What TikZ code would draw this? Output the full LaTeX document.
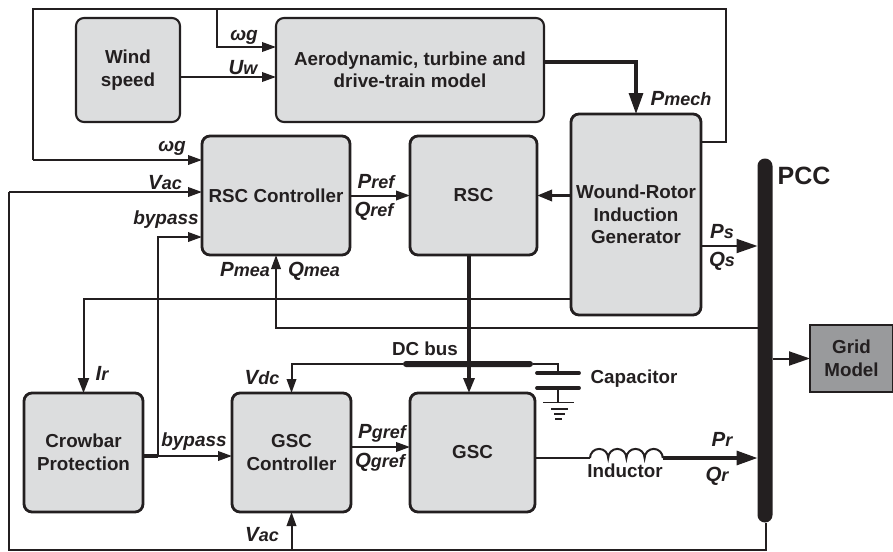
\documentclass[tikz,border=0pt]{standalone}
\usepackage{fontspec}
\setmainfont{Liberation Sans}
\usetikzlibrary{arrows.meta,calc}
\definecolor{ink}{HTML}{231F20}
\definecolor{boxgray}{HTML}{DCDDDE}
\definecolor{gridgray}{HTML}{999A9C}
\newcommand{\sig}[2]{{\fontsize{20.5}{22}\selectfont #1}{\fontsize{18}{22}\selectfont #2}}
\tikzset{
  blockbox/.style={draw=ink,fill=boxgray,line width=2.8pt,rounded corners=8pt,inner sep=0pt,outer sep=0pt,align=center,text=ink,font=\bfseries\fontsize{18.8}{22.5}\selectfont},
  thinbox/.style={blockbox,line width=2.1pt},
  bar/.style={fill=ink,inner sep=0pt,outer sep=0pt},
  lab/.style={inner sep=0pt,text=ink,font=\bfseries\itshape\fontsize{19}{22}\selectfont},
  plain/.style={inner sep=0pt,text=ink,font=\bfseries\fontsize{18.8}{22}\selectfont},
  wire/.style={draw=ink,line width=2pt,line join=miter},
  heavy/.style={draw=ink,line width=3.2pt},
  sa/.style={-{Triangle[length=14pt,width=9.5pt]}},
  la/.style={-{Triangle[length=21pt,width=14pt]}},
  ma/.style={-{Triangle[length=15pt,width=11pt]}}
}
\begin{document}
\begin{tikzpicture}[x=1pt,y=-1pt]
\useasboundingbox (0,0) rectangle (893,551);
% blocks
\node[thinbox,minimum width=104pt,minimum height=104pt] (wind) at (128,70) {Wind\\speed};
\node[thinbox,minimum width=268pt,minimum height=104pt] (aero) at (410,70) {Aerodynamic, turbine and\\drive-train model};
\node[blockbox,minimum width=148pt,minimum height=119pt] (rscc) at (276,195.5) {RSC Controller};
\node[blockbox,minimum width=127pt,minimum height=119pt] (rsc) at (473.5,195.5) {RSC};
\node[blockbox,minimum width=130pt,minimum height=201pt] (gen) at (636,214.5) {Wound-Rotor\\Induction\\Generator};
\node[blockbox,minimum width=119pt,minimum height=119pt] (crow) at (83.5,452.5) {Crowbar\\Protection};
\node[blockbox,minimum width=119pt,minimum height=119pt] (gscc) at (291.5,452.5) {GSC\\Controller};
\node[blockbox,minimum width=125pt,minimum height=119pt] (gsc) at (472.5,452.5) {GSC};
\node[blockbox,fill=gridgray,rounded corners=0pt,minimum width=83pt,minimum height=67pt] (grid) at (851.5,358.5) {Grid\\Model};
\node[bar,rounded corners=7.4pt,minimum width=15pt,minimum height=364pt] (pcc) at (765,340.5) {};
\node[bar,rounded corners=3pt,minimum width=130pt,minimum height=6pt] (dc) at (468,364) {};
% junction coordinates
\coordinate (tl) at (33,9);
\coordinate (tr) at (726,9);
\coordinate (tb) at (217,9);
\coordinate (bl) at (9,550);
\coordinate (br) at (766,550);
\coordinate (by) at (157.5,456);
\coordinate (vb) at (291.5,550);
\coordinate (indl) at (590,458);
\coordinate (capt) at (558,364);
% top feedback loop
\draw[wire] (gen.east |- 0,142) -- (tr |- 0,142) -- (tr) -- (tl) -- (tl |- 0,160);
\draw[wire,sa] (tl |- 0,160) -- (rscc.west |- 0,160);
\draw[wire,sa] (tb) -- (tb |- 0,47) -- (aero.west |- 0,47);
\draw[wire,sa] (wind.east |- 0,77) -- (aero.west |- 0,77);
\draw[heavy,la] (aero.east |- 0,62) -- (gen.north |- 0,62) -- (gen.north);
% RSC row
\draw[wire,sa] (bl |- 0,192) -- (rscc.west |- 0,192);
\draw[wire] (bl |- 0,192) -- (bl) -- (br) -- (pcc.south -| br);
\draw[wire,sa] (vb) -- (gscc.south);
\draw[wire,sa] (by) -- (by |- 0,237) -- (rscc.west |- 0,237);
\draw[wire,sa] (rscc.east) -- (rsc.west);
\draw[heavy,ma] (gen.west |- rsc.east) -- (rsc.east);
\draw[wire,la] (gen.east |- 0,246) -- (pcc.west |- 0,246);
\draw[wire,sa] (pcc.west |- 0,328) -- (rscc.south |- 0,328) -- (rscc.south);
\draw[wire,ma] (gen.west |- 0,299) -- (crow.north |- 0,299) -- (crow.north);
% lower row
\draw[heavy,ma] (rsc.south -| 469,0) -- (gsc.north -| 469,0);
\draw[heavy] (crow.east |- by) -- (by);
\draw[wire,sa] (by) -- (gscc.west |- by);
\draw[wire,sa] (dc.west) -- (gscc.north |- dc.west) -- (gscc.north);
\draw[wire,sa] (gscc.east |- 0,447) -- (gsc.west |- 0,447);
% capacitor
\draw[draw=ink,line width=1.3pt] (dc.east) -- (capt) -- (558,373);
\draw[draw=ink,line width=3.8pt,line cap=round] (537,373) -- (579,373);
\draw[draw=ink,line width=3.8pt,line cap=round] (537,388) -- (579,388);
\draw[wire] (558,388) -- (558,403);
\draw[draw=ink,line width=1.8pt] (543,402.5) -- (574,402.5);
\draw[draw=ink,line width=2pt] (551,408.5) -- (568,408.5);
\draw[draw=ink,line width=2pt] (554,413.5) -- (565,413.5);
\draw[draw=ink,line width=2pt] (555,418.5) -- (562,418.5);
% inductor
\draw[wire] (gsc.east |- indl) -- (indl);
\draw[wire] (indl) arc[start angle=180,end angle=360,radius=9.1] arc[start angle=180,end angle=360,radius=9.1] arc[start angle=180,end angle=360,radius=9.1] arc[start angle=180,end angle=360,radius=9.1] coordinate (indr);
\draw[heavy,la] (indr) -- (pcc.west |- indr);
\draw[wire,la] (pcc.east |- grid.west) -- (grid.west);
% labels
\node[lab] (l1) at (244,37) {ωg};
\node[lab] (l2) at (243,68) {\sig{U}{w}};
\node[lab] (l3) at (172,148) {ωg};
\node[lab] (l4) at (165,183) {\sig{V}{ac}};
\node[lab] (l5) at (166,220) {bypass};
\node[lab] (l6) at (376,182) {\sig{P}{ref}};
\node[lab] (l7) at (374,211) {\sig{Q}{ref}};
\node[lab] (l8) at (245,270) {\sig{P}{mea}};
\node[lab] (l9) at (314,271) {\sig{Q}{mea}};
\node[lab] (l10) at (681,99) {\sig{P}{mech}};
\node[lab] (l11) at (722,232) {\sig{P}{s}};
\node[lab] (l12) at (722,261) {\sig{Q}{s}};
\node[inner sep=0pt,text=ink,font=\bfseries\fontsize{25}{27}\selectfont] (l13) at (804,176) {PCC};
\node[lab] (l14) at (102,373) {\sig{I}{r}};
\node[lab] (l15) at (194,442) {bypass};
\node[lab] (l16) at (262,378) {\sig{V}{dc}};
\node[lab] (l17) at (382,433) {\sig{P}{gref}};
\node[lab] (l18) at (380,462) {\sig{Q}{gref}};
\node[lab] (l19) at (262,535) {\sig{V}{ac}};
\node[plain] (l20) at (425,349) {DC bus};
\node[plain] (l21) at (634,379) {Capacitor};
\node[plain] (l22) at (625,471) {Inductor};
\node[lab] (l23) at (722,439) {\sig{P}{r}};
\node[lab] (l24) at (717,476) {\sig{Q}{r}};
\end{tikzpicture}
\end{document}
